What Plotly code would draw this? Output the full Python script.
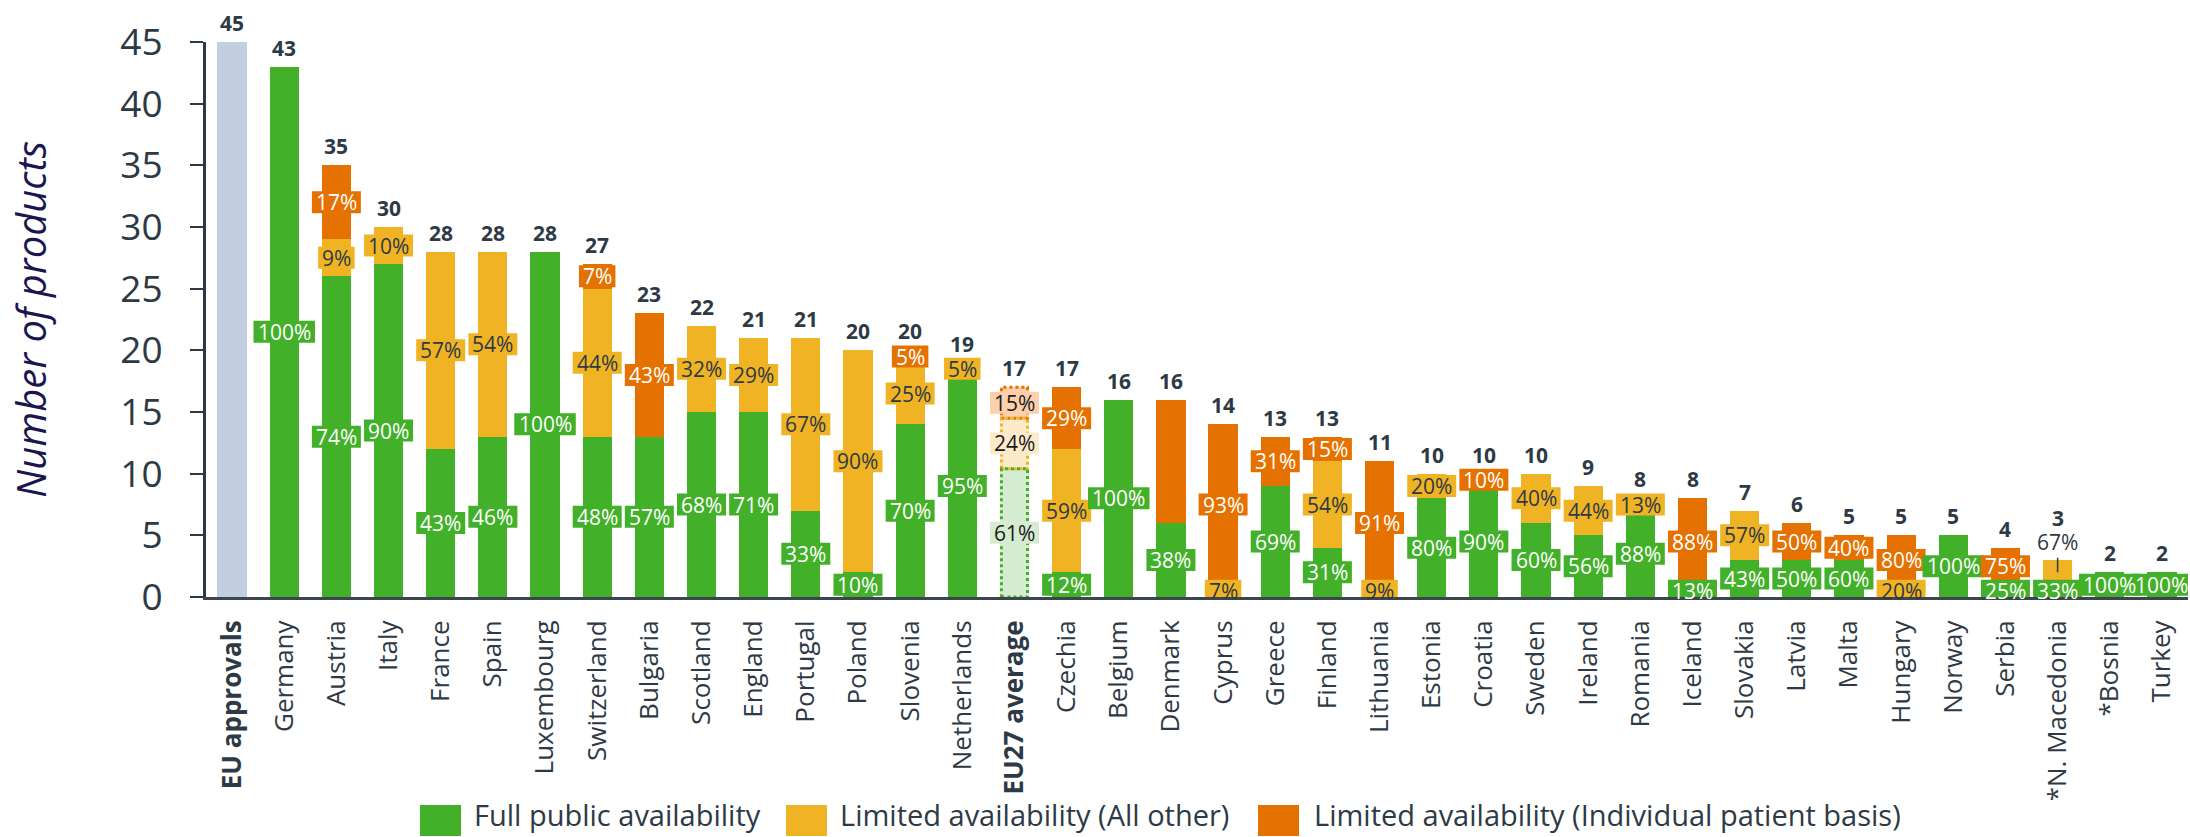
import math
import plotly.graph_objects as go

# ---- data -------------------------------------------------------------
categories = [
    "EU approvals", "Germany", "Austria", "Italy", "France", "Spain", "Luxembourg",
    "Switzerland", "Bulgaria", "Scotland", "England", "Portugal", "Poland",
    "Slovenia", "Netherlands", "EU27 average", "Czechia", "Belgium", "Denmark",
    "Cyprus", "Greece", "Finland", "Lithuania", "Estonia", "Croatia", "Sweden",
    "Ireland", "Romania", "Iceland", "Slovakia", "Latvia", "Malta", "Hungary",
    "Norway", "Serbia", "*N. Macedonia", "*Bosnia", "Turkey",
]
bold_categories = ["EU approvals", "EU27 average"]

approval_category = "EU approvals"
approval_total = 45

# countries (everything after the EU approvals reference bar)
groups = categories[1:]
full_public = [43, 26, 27, 12, 13, 28, 13, 13, 15, 15, 7, 2, 14, 18, 10.4, 2, 16, 6,
               0, 9, 4, 0, 8, 9, 6, 5, 7, 1, 3, 3, 3, 0, 5, 1, 1, 2, 2]
limited_other = [0, 3, 3, 16, 15, 0, 12, 0, 7, 6, 14, 18, 5, 1, 4.1, 10, 0, 0,
                 1, 0, 7, 1, 2, 0, 4, 4, 1, 0, 4, 0, 0, 1, 0, 0, 2, 0, 0]
limited_ipb = [0, 6, 0, 0, 0, 0, 2, 10, 0, 0, 0, 0, 1, 0, 2.5, 5, 0, 10,
               13, 4, 2, 10, 0, 1, 0, 0, 0, 7, 0, 3, 2, 4, 0, 3, 0, 0, 0]

series_names = [
    "Full public availability",
    "Limited availability (All other)",
    "Limited availability (Individual patient basis)",
]
average_category = "EU27 average"
unlabelled = {("Denmark", 2)}          # segment drawn without a percentage
callout_labels = {("*N. Macedonia", 1)}  # percentage placed above the bar

# ---- styling ----------------------------------------------------------
FONT = "Open Sans"
DARK = "#2d3a45"
GREY = "#c3cee0"
COLORS = ["#43b02a", "#f0b323", "#e57200"]
PALE = ["#d5ecd0", "#fbebcb", "#fdcfaa"]
TEXT_ON = ["#ffffff", DARK, "#ffffff"]
BAR_W = 0.56

series = [full_public, limited_other, limited_ipb]
totals = [sum(v) for v in zip(*series)]

fig = go.Figure()

fig.add_bar(
    x=[approval_category], y=[approval_total], marker_color=GREY,
    marker_line_width=0, showlegend=False, hoverinfo="x+y",
)

for s, vals in enumerate(series):
    colors = [PALE[s] if g == average_category else COLORS[s] for g in groups]
    fig.add_bar(
        x=groups, y=vals, name=series_names[s], marker_color=colors,
        marker_line_width=0, showlegend=False,
    )

shapes = []
annotations = []

# total labels above each bar
all_totals = [approval_total] + totals
for cat, tot in zip(categories, all_totals):
    lift = 23 if any(c == cat for c, _ in callout_labels) else 0
    annotations.append(dict(
        x=cat, y=tot, text=f"<b>{round(tot)}</b>", showarrow=False,
        yanchor="middle", yshift=19 + lift,
        font=dict(family=FONT, size=21, color=DARK),
    ))

# percentage labels on each segment
for gi, g in enumerate(groups):
    idx = categories.index(g)
    base = 0.0
    for s, vals in enumerate(series):
        v = vals[gi]
        if v <= 0:
            continue
        mid = base + v / 2
        base += v
        if (g, s) in unlabelled:
            continue
        pct = math.floor(100 * v / totals[gi] + 0.5)
        txt = f"{pct}%"
        if (g, s) in callout_labels:
            annotations.append(dict(
                x=g, y=mid, text=txt, showarrow=True, arrowhead=0,
                arrowwidth=1.5, arrowcolor=DARK, ax=0, ay=-30, standoff=0,
                font=dict(family=FONT, size=21, color=DARK),
            ))
            continue
        avg = g == average_category
        w = 12.5 * len(str(pct)) + 24
        shapes.append(dict(
            type="rect", layer="above", xref="x", yref="y",
            xsizemode="pixel", ysizemode="pixel", xanchor=idx, yanchor=mid,
            x0=-w / 2, x1=w / 2, y0=-11, y1=11,
            fillcolor=PALE[s] if avg else COLORS[s], line_width=0,
        ))
        annotations.append(dict(
            x=g, y=mid, text=txt, showarrow=False, yanchor="middle",
            font=dict(family=FONT, size=21, color="#1b1b1b" if avg else TEXT_ON[s]),
        ))

# dotted outline of the EU27 average segments
ai = categories.index(average_category)
gi = groups.index(average_category)
base = 0.0
for s, vals in enumerate(series):
    v = vals[gi]
    shapes.insert(0, dict(
        type="rect", layer="above", xref="x", yref="y",
        x0=ai - BAR_W / 2 + 0.03, x1=ai + BAR_W / 2 - 0.03, y0=base, y1=base + v,
        line=dict(color=COLORS[s], width=3, dash="dot"), fillcolor="rgba(0,0,0,0)",
    ))
    base += v

# legend drawn along the bottom
PLOT_L, PLOT_R, PLOT_T, PLOT_B = 206, 2188, 42, 597


def px_x(px):
    return (px - PLOT_L) / (PLOT_R - PLOT_L)


def px_y(py):
    return (PLOT_B - py) / (PLOT_B - PLOT_T)


legend_items = [(420, 472), (786, 838), (1258, 1312)]
for s, (sq_x, tx_x) in enumerate(legend_items):
    shapes.append(dict(
        type="rect", xref="paper", yref="paper",
        x0=px_x(sq_x), x1=px_x(sq_x + 41), y0=px_y(836), y1=px_y(805),
        fillcolor=COLORS[s], line_width=0,
    ))
    annotations.append(dict(
        xref="paper", yref="paper", x=px_x(tx_x), y=px_y(836),
        xanchor="left", yanchor="bottom", showarrow=False, text=series_names[s],
        font=dict(family=FONT, size=29, color=DARK),
    ))

ticktext = [f"<b>{c}</b>" if c in bold_categories else c for c in categories]

fig.update_layout(
    width=2190, height=837, autosize=False,
    margin=dict(l=PLOT_L, r=2190 - PLOT_R, t=PLOT_T, b=837 - PLOT_B, pad=0),
    barmode="stack", bargap=1 - BAR_W,
    plot_bgcolor="white", paper_bgcolor="white",
    font=dict(family=FONT, color=DARK),
    shapes=shapes, annotations=annotations, showlegend=False,
    xaxis=dict(
        type="category", categoryorder="array", categoryarray=categories,
        tickmode="array", tickvals=categories, ticktext=ticktext,
        tickangle=-90, tickfont=dict(family=FONT, size=26, color=DARK),
        showline=True, linecolor="#3b4550", linewidth=3, ticks="",
        showgrid=False, automargin=False, ticklabelstandoff=10,
        range=[-0.5, len(categories) - 0.5],
    ),
    yaxis=dict(
        range=[0, 45], tickmode="array", tickvals=list(range(0, 46, 5)),
        ticks="outside", ticklen=13, tickwidth=2, tickcolor=DARK,
        showline=True, linecolor=DARK, linewidth=3, showgrid=False,
        zeroline=False, automargin=False,
        tickfont=dict(family=FONT, size=37, color=DARK), ticklabelstandoff=20,
        title=dict(
            text="Number of products", standoff=62,
            font=dict(family=FONT, size=40, color="#1c1650", style="italic"),
        ),
    ),
)

fig.write_html("out.html")
